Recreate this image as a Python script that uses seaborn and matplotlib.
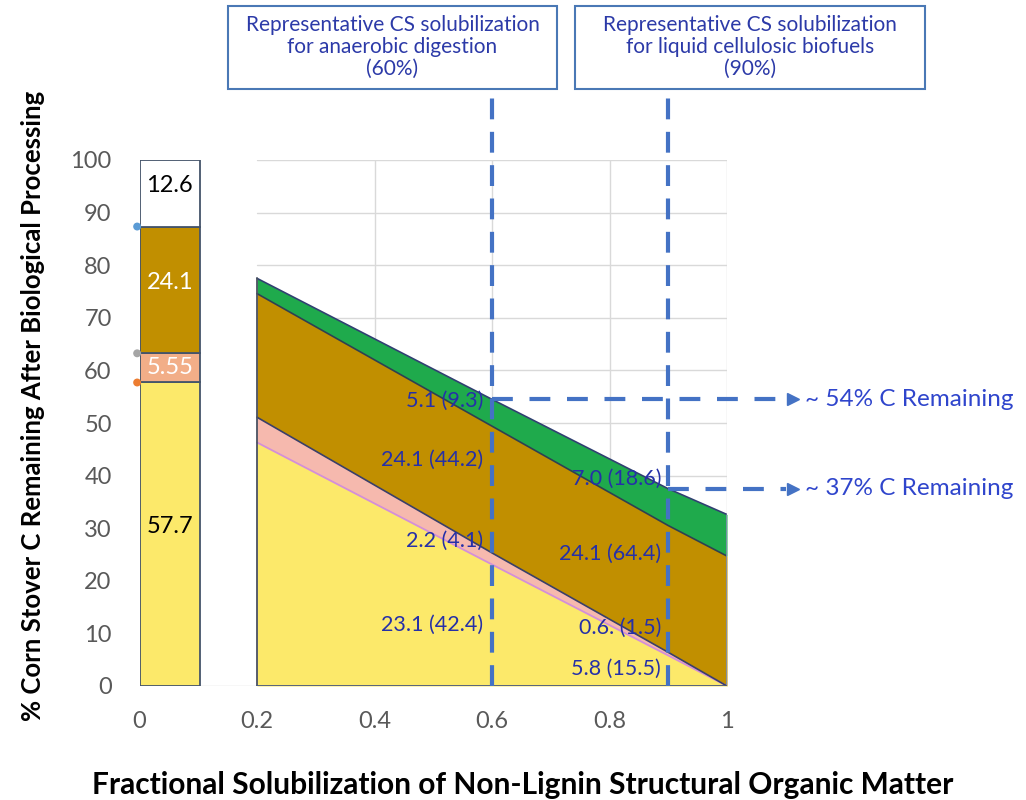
import numpy as np
import pandas as pd
import matplotlib
matplotlib.use("Agg")
import matplotlib.pyplot as plt
from matplotlib.patches import Rectangle
import seaborn as sns

# untreated corn stover bar (bottom to top)
bar_values = [57.7, 5.55, 24.1, 12.6]
bar_colors = ["#fce96a", "#f2ae88", "#c18f00", "#ffffff"]
bar_text_colors = ["black", "white", "white", "black"]
bar_marker_colors = ["#ed7d31", "#a5a5a5", "#5b9bd5"]

# carbon remaining after biological processing (band thickness, bottom to top)
frac_x = [0.2, 0.6, 0.9, 1.0]
yellow_band = [46.3, 23.1, 5.8, 0.0]
pink_band = [4.8, 2.2, 0.6, 0.0]
brown_band = [23.5, 24.1, 24.1, 24.7]
green_band = [2.9, 5.1, 7.0, 7.9]

labels_60 = ["23.1 (42.4)", "2.2 (4.1)", "24.1 (44.2)", "5.1 (9.3)"]
labels_90 = ["5.8 (15.5)", "0.6. (1.5)", "24.1 (64.4)", "7.0 (18.6)"]
marker_x = [0.6, 0.9]
box_texts = ["Representative CS solubilization\nfor anaerobic digestion\n(60%)",
             "Representative CS solubilization\nfor liquid cellulosic biofuels\n(90%)"]

sns.set_theme(style="white")
plt.rcParams['font.family'] = ['Lato', 'DejaVu Sans']

fig = plt.figure(figsize=(10.26, 8), dpi=100)
ax = fig.add_axes([139.5 / 1026, 114 / 800, 587.5 / 1026, 526 / 800])
ax.set_xlim(0, 1)
ax.set_ylim(0, 100)

# gridlines only over the processed region
for yv in range(10, 101, 10):
    ax.plot([0.2, 1.0], [yv, yv], color="#d9d9d9", lw=1, zorder=0)
for xv in [0.4, 0.6, 0.8, 1.0]:
    ax.plot([xv, xv], [0, 100], color="#d9d9d9", lw=1, zorder=0)
ax.plot([0, 1.0], [0, 0], color="#d9d9d9", lw=1, zorder=0)

# left stacked bar
bottoms = np.concatenate([[0], np.cumsum(bar_values)[:-1]])
ax.bar([0.0515] * 4, bar_values, width=0.103, bottom=bottoms, color=bar_colors,
       edgecolor="#44546a", linewidth=1.3, zorder=2)
for v, b, c in zip(bar_values, bottoms, bar_text_colors):
    ax.text(0.0515, b + v / 2 + (1.5 if v > 10 else 0), f"{v:g}", ha="center", va="center",
            fontsize=17, color=c, zorder=5)
ax.scatter([-0.004] * 3, [bottoms[1], bottoms[2], bottoms[3]], s=22,
           c=bar_marker_colors, zorder=3, clip_on=False)

# stacked areas
df = pd.DataFrame({"x": frac_x, "yellow": yellow_band, "pink": pink_band,
                   "brown": brown_band, "green": green_band})
y1 = df["yellow"].values
y2 = y1 + df["pink"].values
y3 = y2 + df["brown"].values
y4 = y3 + df["green"].values
ax.fill_between(df["x"], 0, y1, color="#fce96a", lw=0, zorder=2)
ax.fill_between(df["x"], y1, y2, color="#f6b9ae", lw=0, zorder=2)
ax.fill_between(df["x"], y2, y3, color="#c18f00", lw=0, zorder=2)
ax.fill_between(df["x"], y3, y4, color="#1faa4c", lw=0, zorder=2)
df["y1"], df["y2"], df["y3"], df["y4"] = y1, y2, y3, y4
sns.lineplot(data=df, x="x", y="y1", color="#d48fd8", lw=1.3, ax=ax, zorder=3)
sns.lineplot(data=df, x="x", y="y2", color="#3a3f6a", lw=1.2, ax=ax, zorder=3)
sns.lineplot(data=df, x="x", y="y3", color="#2f4050", lw=1.2, ax=ax, zorder=3)
sns.lineplot(data=df, x="x", y="y4", color="#2f4070", lw=1.2, ax=ax, zorder=3)
ax.plot([0.2, 0.2], [0, y4[0]], color="#4a5060", lw=1.3, zorder=3)
ax.plot([1.0, 1.0], [0, y4[-1]], color="#7f8fb0", lw=1.3, zorder=3)
ax.plot([0.2, 1.0], [0, 0], color="#4a5a80", lw=1.3, zorder=3)

# value labels inside the areas
for lab, yy in zip(labels_60, [11.7, 27.6, 42.9, 54.3]):
    ax.text(0.585, yy, lab, ha="right", va="center", fontsize=15.5, color="#2530a8", zorder=5)
for lab, yy in zip(labels_90, [3.2, 11.0, 25.2, 39.4]):
    ax.text(0.888, yy, lab, ha="right", va="center", fontsize=15.5, color="#2530a8", zorder=5)

# dashed reference lines and arrows
dash_c = "#4472c4"
totals = [np.interp(m, frac_x, y4) for m in marker_x]
for m, tot, txt in zip(marker_x, totals, ["~ 54% C Remaining", "~ 37% C Remaining"]):
    ax.plot([m, m], [0, 111.8], color=dash_c, lw=3, ls=(0, (5, 3)), zorder=4, clip_on=False)
    ax.plot([m, 1.1], [tot, tot], color=dash_c, lw=3, ls=(0, (5, 4)), zorder=4, clip_on=False)
    ax.plot([1.112], [tot], marker=">", ms=9, color=dash_c, zorder=4, clip_on=False)
    ax.text(1.132, tot, txt, ha="left", va="center", fontsize=17.5, color="#2f45cc", zorder=5,
            clip_on=False)

# boxes above the plot
for (x0, x1), txt in zip([(228, 557), (575, 925)], box_texts):
    fig.patches.append(Rectangle((x0 / 1026, 1 - 89 / 800), (x1 - x0) / 1026, 83 / 800,
                                 transform=fig.transFigure, fill=False,
                                 edgecolor="#4a78b5", lw=1.5))
    fig.text((x0 + x1) / 2 / 1026, 1 - 47 / 800, txt, ha="center", va="center",
             fontsize=15, color="#2c3aa8", linespacing=1.1)

# axes styling
sns.despine(ax=ax, left=True, bottom=True)
ax.set_xticks([0, 0.2, 0.4, 0.6, 0.8, 1.0])
ax.set_xticklabels(["0", "0.2", "0.4", "0.6", "0.8", "1"])
ax.set_yticks(range(0, 101, 10))
ax.tick_params(axis="both", length=0, labelsize=17, labelcolor="#595959")
ax.tick_params(axis="y", pad=20)
ax.tick_params(axis="x", pad=18)
ax.set_xlabel("")
ax.set_ylabel("")
fig.text(523 / 1026, 1 - 785 / 800, "Fractional Solubilization of Non-Lignin Structural Organic Matter",
         ha="center", va="center", fontsize=21.5, fontweight="bold", color="black")
fig.text(33 / 1026, 1 - 406 / 800, "% Corn Stover C Remaining After Biological Processing",
         ha="center", va="center", rotation=90, fontsize=18.5, fontweight="bold", color="black")

fig.savefig("out.png", dpi=100)
